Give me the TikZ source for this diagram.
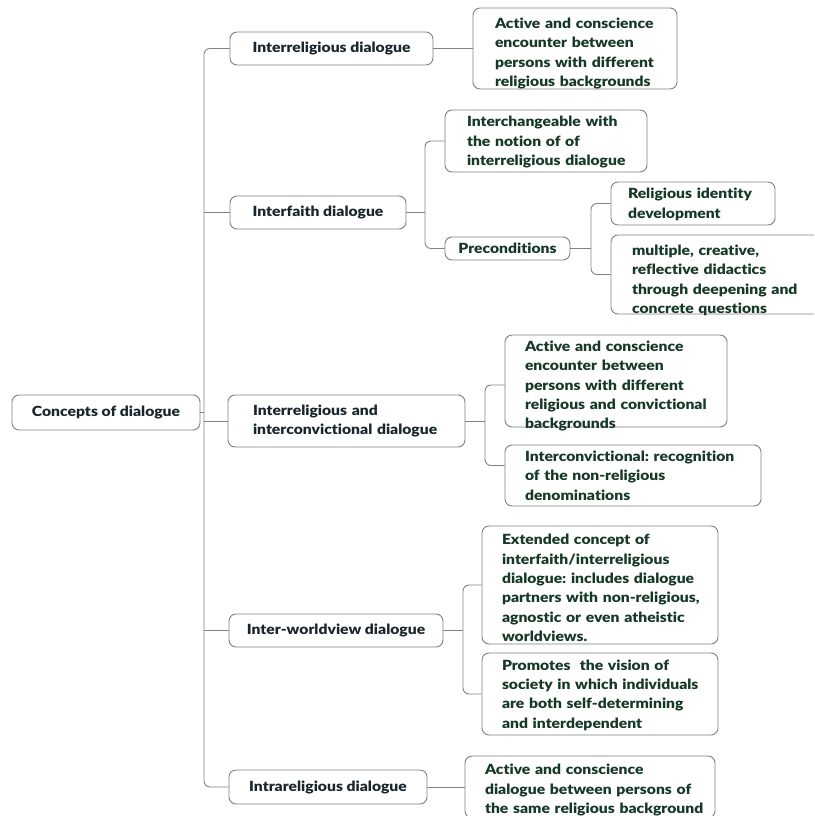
\documentclass[tikz,border=0pt]{standalone}
\usepackage{fontspec}
\setmainfont{Lato}[BoldFont={Lato Black}, BoldFeatures={FakeStretch=1.12}, Ligatures=NoCommon]
\usetikzlibrary{calc}
\definecolor{boxgray}{RGB}{128,128,128}
\definecolor{linegray}{RGB}{130,130,130}
\definecolor{txtA}{RGB}{26,38,46}
\definecolor{txtB}{RGB}{22,56,38}
\newcommand\padleft[1]{\leftskip=#1\rightskip=-40pt plus 1fil\relax}
\begin{document}
\frenchspacing
\begin{tikzpicture}[x=1pt,y=-1pt,
  box/.style={draw=boxgray, line width=0.9pt, rounded corners=7pt, fill=white,
    inner ysep=0pt, font=\bfseries\fontsize{14}{19.3}\selectfont},
  topic/.style={box, text=txtA, align=center, inner xsep=0pt},
  leaf/.style={box, text=txtB, align=left, inner xsep=0pt},
  leaftext/.style={text=txtB, align=left, inner sep=0pt, font=\bfseries\fontsize{14}{19.3}\selectfont},
  conn/.style={draw=linegray, line width=0.9pt},
  elbow/.style={conn, rounded corners=6pt}]
\useasboundingbox (0,0) rectangle (814,816);
\begin{scope}
\clip (0,0) rectangle (814,816);
% level 0 and 1
\node[topic, minimum width=188pt, minimum height=35pt] (root) at (106,412.5) {Concepts of dialogue};
\node[topic, minimum width=203pt, minimum height=33pt] (c1) at (331.5,48.5) {Interreligious dialogue};
\node[topic, minimum width=176pt, minimum height=33pt] (c2) at (318,212.5) {Interfaith dialogue};
\node[leaf, text=txtA, text width=237pt, minimum height=52pt] (c3) at (346.5,421) {\padleft{25pt}Interreligious and\\interconvictional dialogue\par};
\node[topic, minimum width=214pt, minimum height=33pt] (c4) at (336,630.5) {Inter-worldview dialogue};
\node[topic, minimum width=198pt, minimum height=34pt] (c5) at (328,787) {Intrareligious dialogue};
% level 2: boxes
\node[box, minimum width=204pt, minimum height=81pt] (d1) at (575,48.5) {};
\node[box, minimum width=202pt, minimum height=62pt] (i1) at (546,141) {};
\node[topic, text=txtB, minimum width=125pt, minimum height=23pt] (pre) at (507.5,248.5) {Preconditions};
\node[box, minimum width=164pt, minimum height=43pt] (r1) at (693,203.5) {};
\node[box, minimum width=229pt, minimum height=79pt] (r2) at (725.5,274.5) {};
\node[box, minimum width=222pt, minimum height=92pt] (a1) at (616,381) {};
\node[box, minimum width=256pt, minimum height=61pt] (a2) at (633,475.5) {};
\node[box, minimum width=236pt, minimum height=118pt] (w1) at (600,585) {};
\node[box, minimum width=236pt, minimum height=82pt] (w2) at (600,694) {};
\node[box, minimum width=250pt, minimum height=62pt] (e1) at (590,787) {};
% level 2: texts
\node[leaftext, text width=204pt] (d1t) at ($(d1.center)+(0,5)$) {\padleft{22pt}Active and conscience\\encounter between\\persons with different\\religious backgrounds\par};
\node[leaftext, text width=202pt] (i1t) at ($(i1.center)+(0,1)$) {\padleft{22pt}Interchangeable with\\the notion of of\\interreligious dialogue\par};
\node[leaftext, text width=164pt] (r1t) at ($(r1.center)+(0,1)$) {\padleft{17pt}Religious identity\\development\par};
\node[leaftext, text width=229pt] (r2t) at ($(r2.center)+(0,6)$) {\padleft{21pt}multiple, creative,\\reflective didactics\\through deepening and\\concrete questions\par};
\node[leaftext, text width=222pt] (a1t) at ($(a1.center)+(0,5)$) {\padleft{20pt}Active and conscience\\encounter between\\persons with different\\religious and convictional\\backgrounds\par};
\node[leaftext, text width=256pt] (a2t) at (a2.center) {\padleft{20pt}Interconvictional: recognition\\of the non-religious\\denominations\par};
\node[leaftext, text width=236pt] (w1t) at ($(w1.center)+(0,3)$) {\padleft{20pt}Extended concept of\\interfaith/interreligious\\dialogue: includes dialogue\\partners with non-religious,\\agnostic or even atheistic\\worldviews.\par};
\node[leaftext, text width=236pt] (w2t) at ($(w2.center)+(0,1)$) {\padleft{20pt}Promotes\ \ the vision of\\society in which individuals\\are both self-determining\\and interdependent\par};
\node[leaftext, text width=250pt] (e1t) at ($(e1.center)+(0,3)$) {\padleft{20pt}Active and conscience\\dialogue between persons of\\the same religious background\par};
% connectors
\coordinate (tr) at (204,412.5);
\draw[elbow] (c1.west) -| (tr) |- (c5.west);
\draw[conn] (root.east) -- (tr);
\draw[conn] (c2.west) -- (c2.west -| tr);
\draw[conn] (c3.west) -- (c3.west -| tr);
\draw[conn] (c4.west) -- (c4.west -| tr);
\draw[conn] (c1.east) -- (d1.west);
\coordinate (b2) at (425,212.5);
\draw[conn] (c2.east) -- (b2);
\draw[elbow] (i1.west) -| (b2) |- (pre.west);
\coordinate (b22) at (591,248.5);
\draw[conn] (pre.east) -- (b22);
\draw[elbow] (r1.west) -| (b22) |- (r2.west);
\coordinate (b3) at (485,421);
\draw[conn] (c3.east) -- (b3);
\draw[elbow] ($(a1.west)+(0,4)$) -| (b3) |- ($(a2.west)+(0,-10)$);
\coordinate (b4) at (463,630.5);
\draw[conn] (c4.east) -- (b4);
\draw[elbow] (w1.west) -| (b4) |- (w2.west);
\draw[conn] (c5.east) -- (e1.west);
\end{scope}
\end{tikzpicture}
\end{document}
